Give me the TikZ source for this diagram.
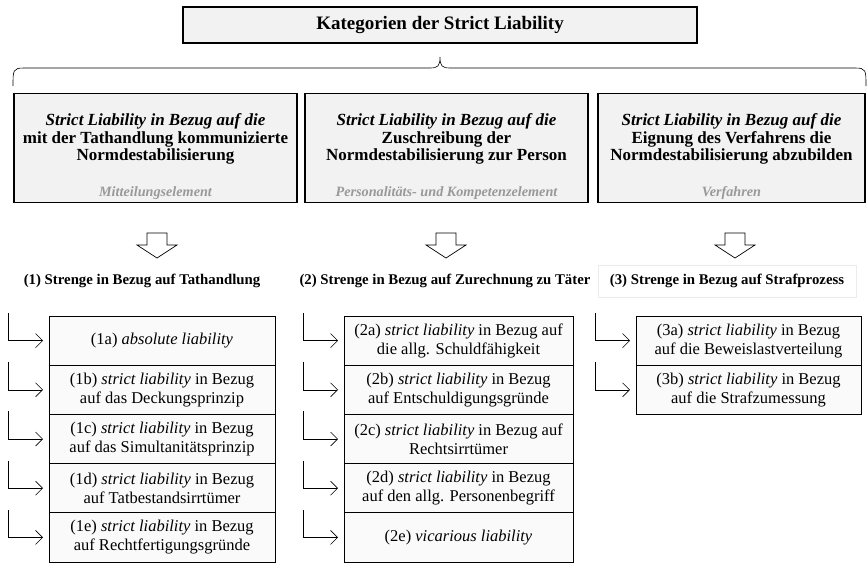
\documentclass[tikz,border=0pt]{standalone}
\usepackage{fontspec}
\setmainfont{Liberation Serif}
\usetikzlibrary{arrows.meta,positioning}

\tikzset{
  titlebox/.style={draw,line width=1.2pt,fill=gray!10,minimum width=514pt,minimum height=36pt,
    font=\fontsize{19}{22}\selectfont\bfseries},
  catbox/.style={draw,line width=1.4pt,fill=gray!10,minimum height=109pt,inner sep=0pt},
  cattext/.style={align=center,inner sep=0pt,font=\fontsize{17}{17.5}\selectfont\bfseries},
  catsub/.style={inner sep=0pt,text=gray!80,font=\fontsize{14.2}{16}\selectfont\bfseries\itshape},
  strenge/.style={inner sep=3pt,font=\fontsize{14.8}{17}\selectfont\bfseries},
  elem/.style={draw,line width=1pt,fill=gray!4,minimum height=49.2pt,align=center,
    inner sep=0pt,outer sep=0pt,font=\fontsize{16.5}{19}\selectfont},
  feed/.style={-{Straight Barb[length=7pt,width=14pt]},line width=0.6pt,shorten >=6pt},
  openarrow/.style={draw,fill=white,line width=0.7pt}
}

\begin{document}
\begin{tikzpicture}[x=1pt,y=-1pt]
    \useasboundingbox (0,0) rectangle (867,563);

    % Title and brace
    \node[titlebox] (kat) at (440,25) {Kategorien der Strict Liability};
    \coordinate (braceL) at (13,86);
    \coordinate (braceR) at (866,86);
    \draw[line width=0.6pt] (braceL) .. controls (13,70) and (13,68) .. (24,68) -- (430,68)
        .. controls (438,68) and (440,66) .. (440,57)
        .. controls (440,66) and (442,68) .. (450,68) -- (855,68)
        .. controls (866,68) and (866,70) .. (braceR);

    % Categories
    \node[catbox,minimum width=283pt] (cat1) at (155.5,148) {};
    \node[catbox,minimum width=283pt] (cat2) at (446.5,148) {};
    \node[catbox,minimum width=267pt] (cat3) at (731.5,148) {};

    \node[cattext,below=21pt of cat1.north] (cat1t) {\textit{Strict Liability in Bezug auf die}\\mit der Tathandlung kommunizierte\\Normdestabilisierung};
    \node[cattext,below=21pt of cat2.north] (cat2t) {\textit{Strict Liability in Bezug auf die}\\Zuschreibung der\\Normdestabilisierung zur Person};
    \node[cattext,below=21pt of cat3.north] (cat3t) {\textit{Strict Liability in Bezug auf die}\\Eignung des Verfahrens die\\Normdestabilisierung abzubilden};

    \node[catsub,above=3pt of cat1.south] (cat1s) {Mitteilungselement};
    \node[catsub,above=3pt of cat2.south] (cat2s) {Personalitäts- und Kompetenzelement};
    \node[catsub,above=3pt of cat3.south] (cat3s) {Verfahren};

    % Open down arrows
    \foreach \cx in {157,446,735}
        \draw[openarrow] (\cx-10,233) -- (\cx+10,233) -- (\cx+10,245) -- (\cx+20,245)
            -- (\cx,258) -- (\cx-20,245) -- (\cx-10,245) -- cycle;

    % Strenge headings
    \node[strenge] (str1) at (142,281) {(1) Strenge in Bezug auf Tathandlung};
    \node[strenge] (str2) at (445,281) {(2) Strenge in Bezug auf Zurechnung zu Täter};
    \node[strenge,draw=gray!15,minimum height=32pt,minimum width=258pt] (str3) at (727,281) {(3) Strenge in Bezug auf Strafprozess};

    % Column 1
    \node[elem,minimum width=226pt,anchor=north] (e1a) at (162,316) {(1a) \textit{absolute liability}};
    \node[elem,minimum width=226pt,below=0pt of e1a] (e1b) {(1b) \textit{strict liability} in Bezug\\auf das Deckungsprinzip};
    \node[elem,minimum width=226pt,below=0pt of e1b] (e1c) {(1c) \textit{strict liability} in Bezug\\auf das Simultanitätsprinzip};
    \node[elem,minimum width=226pt,below=0pt of e1c] (e1d) {(1d) \textit{strict liability} in Bezug\\auf Tatbestandsirrtümer};
    \node[elem,minimum width=226pt,below=0pt of e1d] (e1e) {(1e) \textit{strict liability} in Bezug\\auf Rechtfertigungsgründe};

    % Column 2
    \node[elem,minimum width=229pt,anchor=north] (e2a) at (458.5,316) {(2a) \textit{strict liability} in Bezug auf\\die allg. Schuldfähigkeit};
    \node[elem,minimum width=229pt,below=0pt of e2a] (e2b) {(2b) \textit{strict liability} in Bezug\\auf Entschuldigungsgründe};
    \node[elem,minimum width=229pt,below=0pt of e2b] (e2c) {(2c) \textit{strict liability} in Bezug auf\\Rechtsirrtümer};
    \node[elem,minimum width=229pt,below=0pt of e2c] (e2d) {(2d) \textit{strict liability} in Bezug\\auf den allg. Personenbegriff};
    \node[elem,minimum width=229pt,below=0pt of e2d] (e2e) {(2e) \textit{vicarious liability}};

    % Column 3
    \node[elem,minimum width=225pt,anchor=north] (e3a) at (748.5,316) {(3a) \textit{strict liability} in Bezug\\auf die Beweislastverteilung};
    \node[elem,minimum width=225pt,below=0pt of e3a] (e3b) {(3b) \textit{strict liability} in Bezug\\auf die Strafzumessung};

    % Feed arrows into the elements
    \foreach \e in {1a,1b,1c,1d,1e,2a,2b,2c,2d,2e,3a,3b} {
        \path (e\e.north west) ++(-41,-3) coordinate (f\e);
        \draw[feed] (f\e) |- (e\e.west);
    }
\end{tikzpicture}
\end{document}
